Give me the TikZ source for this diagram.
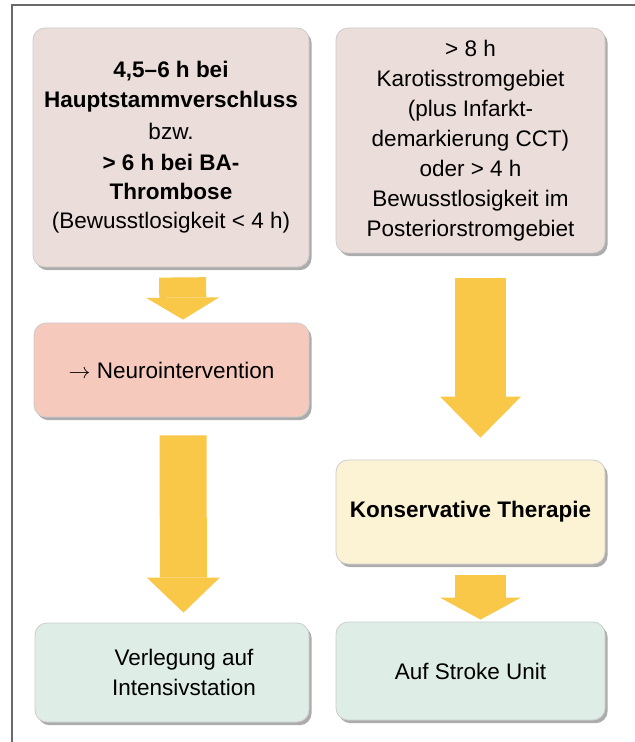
\documentclass[tikz,border=0pt]{standalone}
\usepackage{fontspec}
\setmainfont{Liberation Sans}
\usetikzlibrary{positioning, arrows.meta, shadows}

\definecolor{boxgrey}{RGB}{235,221,218}
\definecolor{boxsalmon}{RGB}{245,202,189}
\definecolor{boxcream}{RGB}{252,242,212}
\definecolor{boxmint}{RGB}{222,238,230}
\definecolor{arrowgold}{RGB}{250,200,72}
\definecolor{framegrey}{RGB}{105,105,105}

\tikzset{
  flowbox/.style={rounded corners=6pt, align=center, inner sep=2pt,
    draw=black!20, line width=0.4pt,
    font=\fontsize{11.25}{14.6}\selectfont,
    drop shadow={shadow xshift=1.3pt, shadow yshift=-1.6pt,
      fill=black!65, opacity=0.5}},
  flowarrow/.style args={#1/#2/#3}{draw=arrowgold, line width=#1,
    -{Triangle[width=#2, length=#3, line width=0pt]}},
}

\begin{document}
\begin{tikzpicture}[x=0.5pt, y=-0.5pt]
  \useasboundingbox (0,0) rectangle (635,742);
  % frame
  \draw[framegrey, line width=0.8pt] (12,742) -- (12,5) -- (635,5);

  % left column
  \node[flowbox, fill=boxgrey, minimum width=138pt, minimum height=119.5pt] (hst) at (171,147.5)
    {\textbf{4,5–6 h bei}\\ \textbf{Hauptstammverschluss}\\[1.5pt] bzw.\\[1pt]
     \textbf{> 6 h bei BA-}\\ \textbf{Thrombose}\\ (Bewusstlosigkeit < 4 h)};
  \node[flowbox, fill=boxsalmon, minimum width=137.5pt, minimum height=47pt] (neuro) at (171.5,370)
    {$\rightarrow$ Neurointervention};
  \node[flowbox, fill=boxmint, minimum width=137pt, minimum height=49.5pt] (icu) at (172,672.5)
    {\hspace*{12pt}Verlegung auf\\ \hspace*{12pt}Intensivstation};

  % right column
  \node[flowbox, fill=boxgrey, minimum width=134.5pt, minimum height=112.5pt,
        font=\fontsize{11.25}{15}\selectfont] (late) at (470.5,140.5)
    {> 8 h\\ Karotisstromgebiet\\ (plus Infarkt-\\ demarkierung CCT)\\
     oder > 4 h\\ Bewusstlosigkeit im\\ Posteriorstromgebiet};
  \node[flowbox, fill=boxcream, minimum width=134.5pt, minimum height=52pt] (kons) at (470.5,512)
    {\textbf{Konservative Therapie}};
  \node[flowbox, fill=boxmint, minimum width=134.5pt, minimum height=49pt] (stroke) at (470.5,671)
    {Auf Stroke Unit};

  % arrows
  \draw[flowarrow=23.5pt/36.5pt/11pt, shorten <=5pt, shorten >=1.5pt]
    ([xshift=5.75pt]hst.south) -- ([xshift=5.75pt]neuro.north);
  \draw[flowarrow=23.5pt/36.5pt/17.5pt, shorten <=9pt, shorten >=5pt]
    ([xshift=5.75pt]neuro.south) -- ([xshift=5.75pt]icu.north);
  \draw[flowarrow=25.5pt/40.5pt/20.5pt, shorten <=12.5pt, shorten >=11pt]
    ([xshift=5pt]late.south) -- ([xshift=5pt]kons.north);
  \draw[flowarrow=25.5pt/40.5pt/11pt, shorten <=5.5pt, shorten >=1pt]
    ([xshift=5pt]kons.south) -- ([xshift=5pt]stroke.north);
\end{tikzpicture}
\end{document}
